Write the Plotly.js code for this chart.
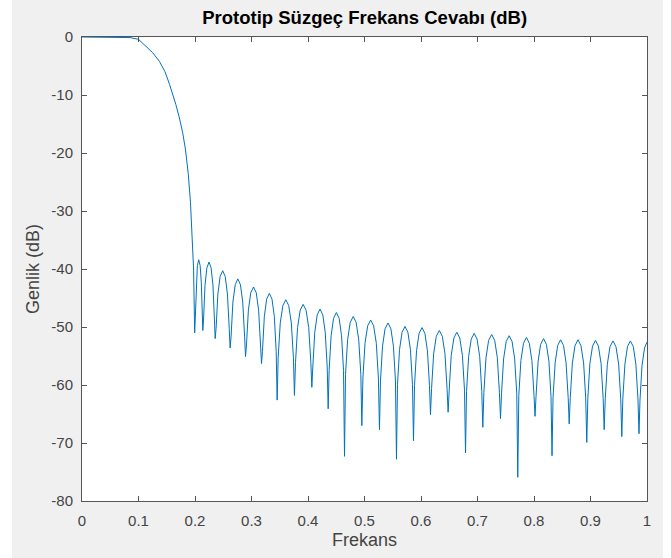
<!DOCTYPE html>
<html>
<head>
<meta charset="utf-8">
<script src="https://cdn.plot.ly/plotly-3.0.1.min.js"></script>
<style>
  html, body { margin: 0; padding: 0; background: #ffffff; }
  #chart { position: absolute; left: 12px; top: 0px; width: 651px; height: 558px; }
</style>
</head>
<body>
<div id="chart"></div>
<script>
// Main lobe (passband + transition)
const mainFreq = [0, 0.04, 0.07, 0.085, 0.1, 0.114, 0.125, 0.137, 0.147, 0.155, 0.160, 0.166, 0.172, 0.178, 0.183, 0.188, 0.192, 0.195, 0.1975, 0.1994];
const mainDb   = [0, 0, 0, -0.1, -0.4, -1.6, -2.7, -4.2, -6.0, -8.2, -9.7, -11.6, -13.8, -16.4, -19.3, -23.5, -28.5, -34.0, -40.0, -51.0];

// Stopband ripple (lobe flanks, peaks and nulls)
const sideFreq = [
  0.2003, 0.2020, 0.2042, 0.2066, 0.2091, 0.2112, 0.2129, 0.2138,
  0.2151, 0.2177, 0.2210, 0.2248, 0.2285, 0.2318, 0.2344, 0.2357,
  0.2373, 0.2405, 0.2445, 0.2490, 0.2535, 0.2574, 0.2606, 0.2622,
  0.2638, 0.2671, 0.2712, 0.2758, 0.2804, 0.2845, 0.2878, 0.2894,
  0.2911, 0.2945, 0.2987, 0.3036, 0.3084, 0.3126, 0.3160, 0.3177,
  0.3194, 0.3227, 0.3268, 0.3316, 0.3363, 0.3404, 0.3437, 0.3454,
  0.3472, 0.3509, 0.3555, 0.3607, 0.3659, 0.3705, 0.3742, 0.3760,
  0.3779, 0.3815, 0.3862, 0.3914, 0.3966, 0.4013, 0.4050, 0.4068,
  0.4085, 0.4120, 0.4163, 0.4213, 0.4262, 0.4305, 0.4340, 0.4357,
  0.4374, 0.4409, 0.4452, 0.4502, 0.4551, 0.4594, 0.4629, 0.4646,
  0.4664, 0.4701, 0.4747, 0.4800, 0.4852, 0.4898, 0.4935, 0.4953,
  0.4972, 0.5009, 0.5056, 0.5109, 0.5162, 0.5209, 0.5246, 0.5265,
  0.5283, 0.5319, 0.5364, 0.5416, 0.5467, 0.5512, 0.5548, 0.5566,
  0.5584, 0.5620, 0.5665, 0.5717, 0.5768, 0.5813, 0.5849, 0.5867,
  0.5885, 0.5921, 0.5966, 0.6018, 0.6069, 0.6114, 0.6150, 0.6168,
  0.6187, 0.6224, 0.6271, 0.6324, 0.6377, 0.6424, 0.6461, 0.6480,
  0.6499, 0.6535, 0.6582, 0.6634, 0.6686, 0.6733, 0.6770, 0.6788,
  0.6806, 0.6843, 0.6889, 0.6941, 0.6993, 0.7039, 0.7076, 0.7094,
  0.7113, 0.7150, 0.7197, 0.7251, 0.7304, 0.7351, 0.7388, 0.7407,
  0.7425, 0.7462, 0.7508, 0.7560, 0.7612, 0.7658, 0.7695, 0.7713,
  0.7731, 0.7768, 0.7814, 0.7866, 0.7917, 0.7963, 0.8000, 0.8018,
  0.8036, 0.8072, 0.8117, 0.8169, 0.8220, 0.8265, 0.8301, 0.8319,
  0.8337, 0.8374, 0.8419, 0.8471, 0.8523, 0.8568, 0.8605, 0.8623,
  0.8642, 0.8679, 0.8726, 0.8779, 0.8831, 0.8878, 0.8915, 0.8934,
  0.8953, 0.8989, 0.9036, 0.9088, 0.9140, 0.9187, 0.9224, 0.9242,
  0.9261, 0.9298, 0.9345, 0.9398, 0.9451, 0.9498, 0.9535, 0.9554,
  0.9572, 0.9609, 0.9654, 0.9706, 0.9758, 0.9803, 0.9840, 0.9858,
  0.9876, 0.9912, 0.9957, 1.0
];
const sideDb = [
  -48.4, -42.4, -39.4, -38.4, -39.4, -42.4, -48.4, -50.6,
  -48.8, -42.8, -39.8, -38.8, -39.8, -42.8, -48.8, -52.0,
  -50.3, -44.3, -41.3, -40.3, -41.3, -44.3, -50.3, -53.6,
  -51.7, -45.7, -42.7, -41.7, -42.7, -45.7, -51.7, -55.1,
  -53.1, -47.1, -44.1, -43.1, -44.1, -47.1, -53.1, -56.3,
  -54.2, -48.2, -45.2, -44.2, -45.2, -48.2, -54.2, -62.6,
  -55.3, -49.3, -46.3, -45.3, -46.3, -49.3, -55.3, -61.8,
  -56.1, -50.1, -47.1, -46.1, -47.1, -50.1, -56.1, -60.4,
  -56.9, -50.9, -47.9, -46.9, -47.9, -50.9, -56.9, -64.1,
  -57.5, -51.5, -48.5, -47.5, -48.5, -51.5, -57.5, -72.3,
  -58.2, -52.2, -49.2, -48.2, -49.2, -52.2, -58.2, -67.0,
  -58.8, -52.8, -49.8, -48.8, -49.8, -52.8, -58.8, -67.7,
  -59.3, -53.3, -50.3, -49.3, -50.3, -53.3, -59.3, -72.8,
  -59.9, -53.9, -50.9, -49.9, -50.9, -53.9, -59.9, -69.6,
  -60.1, -54.1, -51.1, -50.1, -51.1, -54.1, -60.1, -65.1,
  -60.6, -54.6, -51.6, -50.6, -51.6, -54.6, -60.6, -64.7,
  -60.9, -54.9, -51.9, -50.9, -51.9, -54.9, -60.9, -71.7,
  -61.1, -55.1, -52.1, -51.1, -52.1, -55.1, -61.1, -67.3,
  -61.3, -55.3, -52.3, -51.3, -52.3, -55.3, -61.3, -65.8,
  -61.5, -55.5, -52.5, -51.5, -52.5, -55.5, -61.5, -75.9,
  -61.8, -55.8, -52.8, -51.8, -52.8, -55.8, -61.8, -65.4,
  -62.0, -56.0, -53.0, -52.0, -53.0, -56.0, -62.0, -72.2,
  -62.2, -56.2, -53.2, -52.2, -53.2, -56.2, -62.2, -66.7,
  -62.2, -56.2, -53.2, -52.2, -53.2, -56.2, -62.2, -69.9,
  -62.3, -56.3, -53.3, -52.3, -53.3, -56.3, -62.3, -67.7,
  -62.4, -56.4, -53.4, -52.4, -53.4, -56.4, -62.4, -68.9,
  -62.4, -56.4, -53.4, -52.4, -53.4, -56.4, -62.4, -68.4,
  -62.6, -56.6, -53.6, -52.6
];

const xTicks = [0, 0.1, 0.2, 0.3, 0.4, 0.5, 0.6, 0.7, 0.8, 0.9, 1];
const xTickText = ["0", "0.1", "0.2", "0.3", "0.4", "0.5", "0.6", "0.7", "0.8", "0.9", "1"];
const yTicks = [-80, -70, -60, -50, -40, -30, -20, -10, 0];
const yTickText = ["-80", "-70", "-60", "-50", "-40", "-30", "-20", "-10", "0"];

const titleText = "Prototip Süzgeç Frekans Cevabı (dB)";
const xLabel = "Frekans";
const yLabel = "Genlik (dB)";

const trace = {
  x: mainFreq.concat(sideFreq),
  y: mainDb.concat(sideDb),
  type: "scatter",
  mode: "lines",
  line: { color: "#0072BD", width: 1 },
  hoverinfo: "skip"
};

const axisCommon = {
  showgrid: false,
  zeroline: false,
  showline: true,
  linecolor: "#555555",
  linewidth: 1,
  mirror: "ticks",
  ticks: "inside",
  ticklen: 5,
  tickwidth: 1,
  tickcolor: "#555555",
  tickfont: { family: "Liberation Sans, Arial, sans-serif", size: 15, color: "#444444" }
};

const layout = {
  width: 651,
  height: 558,
  margin: { l: 70, r: 16, t: 37, b: 57 },
  paper_bgcolor: "#f0f0f0",
  plot_bgcolor: "#ffffff",
  showlegend: false,
  title: {
    text: "<b>" + titleText + "</b>",
    font: { family: "Liberation Sans, Arial, sans-serif", size: 18.5, color: "#000000" },
    x: 0.5417, xanchor: "center",
    y: 0.968, yanchor: "middle", yref: "container"
  },
  xaxis: Object.assign({}, axisCommon, {
    range: [0, 1],
    tickvals: xTicks,
    ticktext: xTickText,
    ticklabelstandoff: 6,
    title: { text: xLabel, font: { family: "Liberation Sans, Arial, sans-serif", size: 18, color: "#444444" }, standoff: 5 }
  }),
  yaxis: Object.assign({}, axisCommon, {
    range: [-80, 0],
    tickvals: yTicks,
    ticktext: yTickText,
    ticklabelstandoff: 5,
    title: { text: yLabel, font: { family: "Liberation Sans, Arial, sans-serif", size: 18, color: "#444444" }, standoff: 7 }
  })
};

Plotly.newPlot("chart", [trace], layout, { displayModeBar: false, staticPlot: true });
</script>
</body>
</html>
